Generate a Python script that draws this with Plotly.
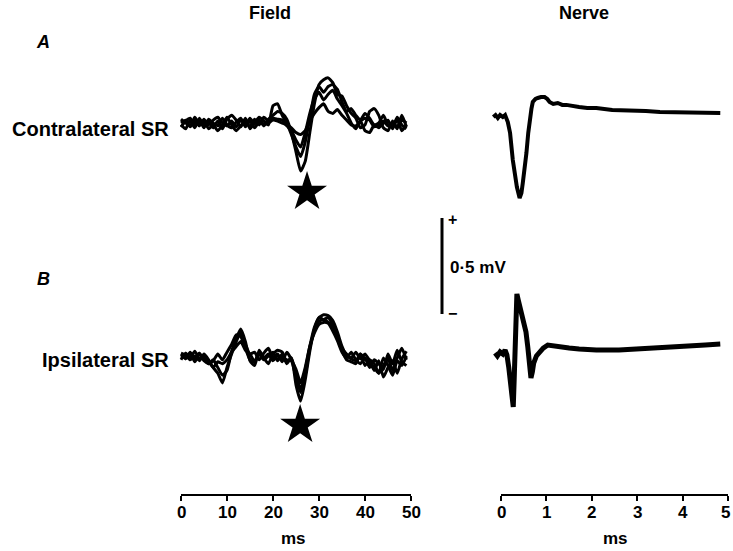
import plotly.graph_objects as go

# ---------------- data ----------------
# Field potentials (µV), sampled every 1 ms from 0 to 49 ms
FIELD_T = list(range(0, 50))

FIELD_A = [
    [0, 15, -20, 10, -15, 20, -10, 15, 30, 0, -15, 10, -20, 15, -10, 25, -5, 15, -15, 20,
     40, 60, 50, 20, -50, -150, -250, -200, -50, 100, 200, 225, 235, 210, 150, 140, 90, 50, 25, -25,
     -10, 60, 75, 40, -25, -40, 10, -30, 40, -20],
    [-10, -30, 15, -25, 25, -15, 10, -25, 10, -30, 20, 40, 15, -20, 25, -30, 0, 30, 10, -10,
     90, 100, 40, 0, -60, -125, -175, -100, 25, 150, 190, 160, 190, 200, 175, 110, 60, 75, 40, 15,
     50, 25, -10, 0, 40, -10, -20, 30, -10, -30],
    [20, 0, -15, 30, -5, 10, -30, -10, -40, -10, 30, -10, -40, -15, 10, -20, 20, -10, 30, 10,
     25, 20, 15, -15, -40, -90, -125, -50, 50, 125, 160, 120, 150, 170, 125, 90, 50, 0, -30, 10,
     -40, -50, -10, -25, 0, 15, -30, 20, -40, -10],
    [-20, 10, 25, -10, 15, -25, 20, 0, -15, 25, -10, -25, 5, 25, -20, 10, -25, 5, -5, 0,
     15, 10, 0, -10, -25, -50, -60, -40, 10, 50, 80, 100, 60, 50, 70, 40, 15, -10, -15, 10,
     25, 15, -20, -10, 10, -15, 0, -20, 15, 0],
]

FIELD_B = [
    [10, -15, 20, -10, 15, -25, -40, -20, -60, -100, -75, 25, 90, 140, 75, -25, -50, 30, -10, -40,
     10, 30, 20, -30, -10, -150, -235, -125, 25, 140, 200, 215, 210, 185, 125, 50, 0, -15, -25, 10,
     -15, -40, -60, -90, -50, -15, -75, -10, 40, -20],
    [-20, 15, -10, 25, -15, 0, -30, -60, -90, -140, -60, 10, 75, 120, 60, 10, 20, -20, 15, 40,
     -10, 10, -30, 20, -20, -110, -190, -75, 50, 150, 200, 190, 200, 160, 100, 40, 10, -10, 20, -15,
     10, -25, -75, -25, -110, -60, -25, -90, -15, 25],
    [0, -10, 15, -30, 10, -15, -40, -25, 10, -20, 20, 60, 110, 100, 40, -20, -30, 10, -20, 0,
     20, -25, 10, -40, -10, -90, -175, -100, 40, 130, 180, 190, 175, 150, 90, 30, -20, -30, -40, 10,
     -50, -20, -40, -90, -10, -50, -100, -25, -50, 0],
    [15, 5, -20, 0, -25, 10, -20, -60, -30, -40, -20, 20, 50, 75, 30, 10, -30, 20, -10, 10,
     -25, 0, -10, -20, -25, -70, -140, -60, 50, 120, 165, 175, 170, 130, 80, 20, -10, 20, -20, -40,
     -10, -60, -20, -40, -70, 10, -40, 30, -30, -50],
]

# Nerve recordings (mV) vs time (ms)
NERVE_A_T = [-0.17, -0.12, -0.07, -0.02, 0.04, 0.09, 0.15, 0.2, 0.26, 0.31, 0.35, 0.41, 0.45, 0.48,
             0.52, 0.56, 0.6, 0.63, 0.67, 0.7, 0.76, 0.81, 0.88, 0.96, 1.02, 1.07, 1.15, 1.25, 1.35,
             1.44, 1.55, 1.72, 1.9, 2.1, 2.45, 2.8, 3.19, 3.5, 3.9, 4.3, 4.83]
NERVE_A_V = [0, 0.010, -0.005, 0.010, 0, 0.010, -0.026, -0.083, -0.224, -0.313, -0.365, -0.422,
             -0.396, -0.344, -0.271, -0.188, -0.083, -0.016, 0.042, 0.078, 0.094, 0.099, 0.104,
             0.104, 0.094, 0.078, 0.068, 0.073, 0.063, 0.063, 0.057, 0.052, 0.047, 0.047, 0.036,
             0.036, 0.031, 0.026, 0.026, 0.026, 0.021]

NERVE_B_T = [-0.13, -0.08, -0.02, 0.04, 0.09, 0.13, 0.17, 0.21, 0.24, 0.27, 0.29, 0.31, 0.33, 0.35,
             0.38, 0.41, 0.45, 0.5, 0.55, 0.59, 0.63, 0.66, 0.69, 0.72, 0.78, 0.85, 0.93, 1.03, 1.15,
             1.29, 1.5, 1.72, 2.1, 2.6, 2.9, 3.25, 3.7, 4.13, 4.5, 4.83]
NERVE_B_V = [-0.016, -0.031, -0.010, -0.021, 0, -0.026, -0.089, -0.156, -0.208, -0.297, -0.156,
             0.016, 0.182, 0.292, 0.260, 0.234, 0.198, 0.156, 0.094, 0.016, -0.078, -0.146, -0.115,
             -0.068, -0.031, -0.010, 0.010, 0.026, 0.021, 0.016, 0.010, 0.005, 0, 0, 0.005, 0.005,
             0.016, 0.026, 0.026, 0.031]

# Star markers: time (ms) and offset from baseline (mV)
STAR_T = [27.4, 25.9]
STAR_DY = [-0.36, -0.36]

FIELD_TICKS = [0, 10, 20, 30, 40, 50]
NERVE_TICKS = [0, 1, 2, 3, 4, 5]
SCALE_MV = 0.5

# ---------------- layout constants ----------------
W, H = 733, 551
PX_PER_MV = 192.0
F0, F50 = 181, 411          # pixel of 0 and 50 ms on field axis
N0, N5 = 501, 728           # pixel of 0 and 5 ms on nerve axis
AXIS_Y = 494
TICKLABEL_Y = 512
BASE_PX = {"fa": 123, "fb": 356, "na": 117, "nb": 350}
FONT = "Liberation Sans, Arial, Helvetica, sans-serif"


def base(key):
    return (H - BASE_PX[key]) / PX_PER_MV


f_ppm = (F50 - F0) / 50.0
n_ppm = (N5 - N0) / 5.0
fx_dom = (165, 425)
nx_dom = (480, 733)

fig = go.Figure()

# dummy traces so the visible axes get drawn
fig.add_trace(go.Scatter(x=[0, 50], y=[None, None], xaxis="x", yaxis="y2",
                         mode="lines", showlegend=False, hoverinfo="skip"))
fig.add_trace(go.Scatter(x=[0, 5], y=[None, None], xaxis="x2", yaxis="y2",
                         mode="lines", showlegend=False, hoverinfo="skip"))

for key, traces in (("fa", FIELD_A), ("fb", FIELD_B)):
    b = base(key)
    for tr in traces:
        fig.add_trace(go.Scatter(
            x=FIELD_T, y=[b + v / 1000.0 for v in tr], xaxis="x3", yaxis="y",
            mode="lines", line=dict(color="black", width=3, shape="spline", smoothing=0.5),
            showlegend=False, hoverinfo="skip"))

for key, t, v, w in (("na", NERVE_A_T, NERVE_A_V, 4), ("nb", NERVE_B_T, NERVE_B_V, 5)):
    b = base(key)
    fig.add_trace(go.Scatter(
        x=t, y=[b + vv for vv in v], xaxis="x4", yaxis="y",
        mode="lines", line=dict(color="black", width=w),
        showlegend=False, hoverinfo="skip"))

fig.add_trace(go.Scatter(
    x=STAR_T, y=[base("fa") + STAR_DY[0], base("fb") + STAR_DY[1]],
    xaxis="x3", yaxis="y", mode="markers",
    marker=dict(symbol="star", size=30, color="black"),
    showlegend=False, hoverinfo="skip"))

common_vis = dict(anchor="y2", side="bottom", showline=True, linecolor="black",
                  linewidth=2, ticks="outside", ticklen=5, tickwidth=2, tickcolor="black",
                  showgrid=False, zeroline=False, showticklabels=False, fixedrange=True,
                  automargin=False)

fig.update_layout(
    width=W, height=H, margin=dict(l=0, r=0, t=0, b=0, autoexpand=False),
    paper_bgcolor="white", plot_bgcolor="rgba(0,0,0,0)", showlegend=False,
    xaxis=dict(domain=[F0 / W, F50 / W], range=[0, 50], tickvals=FIELD_TICKS, **common_vis),
    xaxis2=dict(domain=[N0 / W, N5 / W], range=[0, 5], tickvals=NERVE_TICKS, **common_vis),
    xaxis3=dict(domain=[fx_dom[0] / W, fx_dom[1] / W],
                range=[(fx_dom[0] - F0) / f_ppm, (fx_dom[1] - F0) / f_ppm],
                visible=False, anchor="y", fixedrange=True),
    xaxis4=dict(domain=[nx_dom[0] / W, nx_dom[1] / W],
                range=[(nx_dom[0] - N0) / n_ppm, (nx_dom[1] - N0) / n_ppm],
                visible=False, anchor="y", fixedrange=True),
    yaxis=dict(domain=[0, 1], range=[0, H / PX_PER_MV], visible=False, fixedrange=True),
    yaxis2=dict(domain=[(H - AXIS_Y) / H, 1], range=[0, 1], visible=False, fixedrange=True),
)

# tick labels (drawn as annotations so the last one is not dropped at the edge)
for xref, ticks in (("x", FIELD_TICKS), ("x2", NERVE_TICKS)):
    for tv in ticks:
        last_nerve = xref == "x2" and tv == ticks[-1]
        fig.add_annotation(text=str(tv), x=tv, xref=xref, y=1 - TICKLABEL_Y / H, yref="paper",
                           showarrow=False, xanchor="right" if last_nerve else "center",
                           xshift=4 if last_nerve else 0, yanchor="middle",
                           font=dict(family=FONT, size=17, color="black", weight="bold"))

# scale bar (0.5 mV)
bar_bottom = (H - 314) / PX_PER_MV
fig.add_shape(type="line", xref="paper", yref="y", x0=442 / W, x1=442 / W,
              y0=bar_bottom, y1=bar_bottom + SCALE_MV, line=dict(color="black", width=3))


def label(text, px, py, size=18, weight="bold", italic=False, xanchor="center"):
    fig.add_annotation(text=text, x=px / W, y=1 - py / H, xref="paper", yref="paper",
                       showarrow=False, xanchor=xanchor, yanchor="middle",
                       font=dict(family=FONT, size=size, color="black", weight=weight,
                                 style="italic" if italic else "normal"))


label("Field", 270, 13)
label("Nerve", 584, 13)
label("A", 43, 42, italic=True)
label("B", 43, 279, italic=True)
label("Contralateral SR", 171, 129, size=20, xanchor="right")
label("Ipsilateral SR", 171, 360, size=20, xanchor="right")
label("+", 453, 220, size=16)
label("\u2212", 453, 313, size=16)
label("0\u00b75 mV", 448, 267, size=17, xanchor="left")
label("ms", 293, 538, size=17)
label("ms", 615, 538, size=17)

fig.write_html("out.html")
